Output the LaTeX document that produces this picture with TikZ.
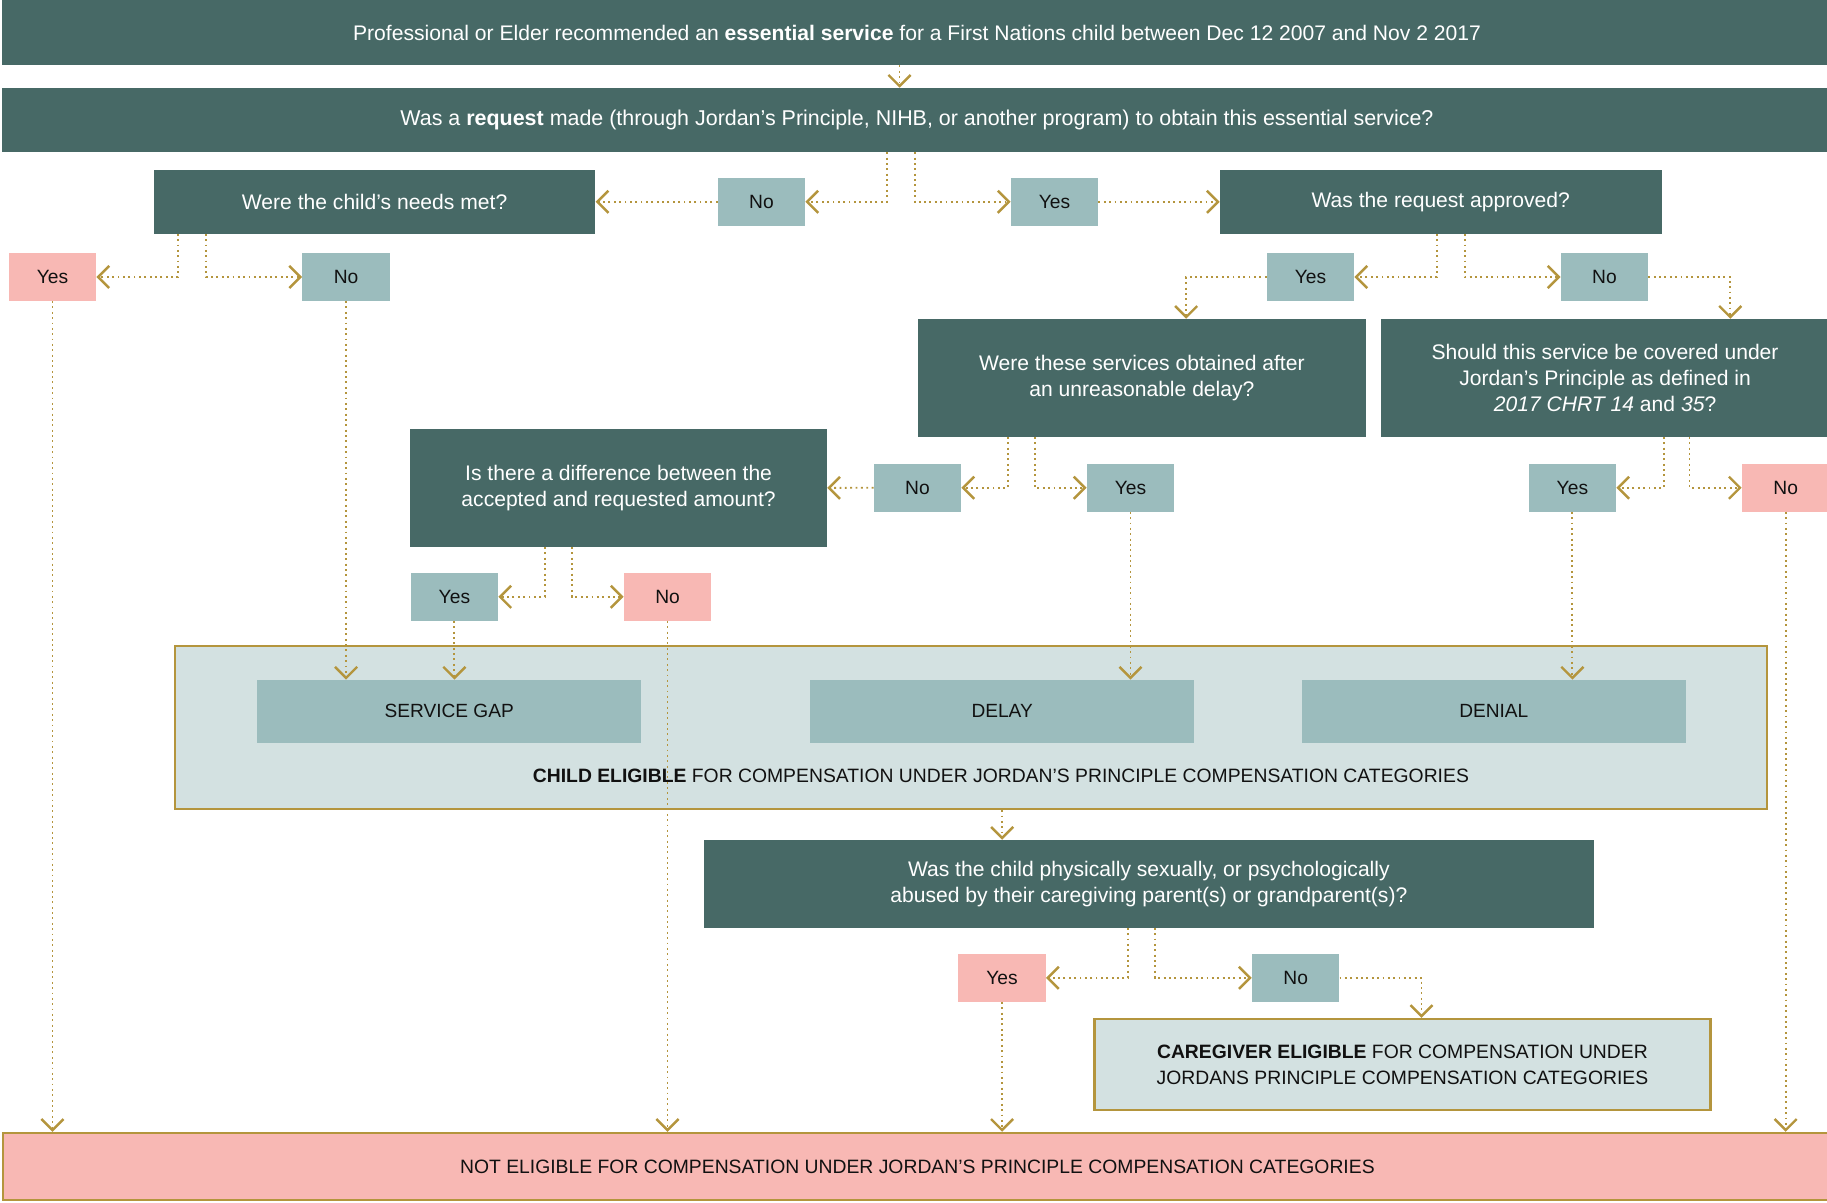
\documentclass[tikz,border=0pt]{standalone}
\usepackage{fontspec}
\setmainfont{Liberation Sans}
\usetikzlibrary{arrows.meta}
\definecolor{darkteal}{HTML}{476966}
\definecolor{paleteal}{HTML}{9BBCBD}
\definecolor{softpink}{HTML}{F8B8B4}
\definecolor{mistteal}{HTML}{D3E1E1}
\definecolor{ochre}{HTML}{B4953D}
\definecolor{inkblack}{HTML}{111111}
\begin{document}
\begin{tikzpicture}[x=1pt,y=-1pt,
  qbox/.style={fill=darkteal, text=white, inner sep=0pt, align=center,
    font=\fontsize{18.1}{22}\selectfont},
  ans/.style={fill=paleteal, text=inkblack, inner sep=0pt,
    minimum width=75pt, minimum height=41pt, font=\fontsize{16.5}{20}\selectfont},
  ansneg/.style={ans, fill=softpink},
  catbox/.style={fill=paleteal, text=inkblack, inner sep=0pt,
    minimum width=330pt, minimum height=54pt, font=\fontsize{16.4}{20}\selectfont},
  framebox/.style={draw=ochre, line width=2pt, inner sep=0pt, align=center,
    text=inkblack, font=\fontsize{16.6}{22}\selectfont},
  flow/.style={draw=ochre, line width=1.6pt, dash pattern=on 1.6pt off 3pt,
    -{Straight Barb[length=9.5pt,width=19pt,line width=2.1pt]}}]

\useasboundingbox (0,0) rectangle (1568,1031.6);

% question boxes
\node[qbox, minimum width=1570pt, minimum height=56pt] (start) at (787,28)
  {Professional or Elder recommended an \textbf{essential service} for a First Nations child between Dec 12 2007 and Nov 2 2017};
\node[qbox, font=\fontsize{18.4}{22}\selectfont, minimum width=1570pt, minimum height=55pt] (request) at (787,103)
  {Was a \textbf{request} made (through Jordan’s Principle, NIHB, or another program) to obtain this essential service?};
\node[qbox, minimum width=379pt, minimum height=54.5pt] (needs) at (321.5,173.2)
  {Were the child’s needs met?};
\node[qbox, minimum width=379pt, minimum height=54.5pt] (approved) at (1236.5,173.2)
  {Was the request approved?};
\node[qbox, minimum width=384.4pt, minimum height=101pt] (delayq) at (980,324.3)
  {Were these services obtained after\\an unreasonable delay?};
\node[qbox, minimum width=385pt, minimum height=101pt] (covered) at (1377.5,324.3)
  {Should this service be covered under\\Jordan’s Principle as defined in\\\textit{2017 CHRT 14} and \textit{35}?};
\node[qbox, minimum width=357.7pt, minimum height=101pt] (diff) at (530.9,418.7)
  {Is there a difference between the\\accepted and requested amount?};

% child eligibility panel
\node[framebox, fill=mistteal, minimum width=1366pt, minimum height=140pt] (child) at (833.2,624.3) {};
\node[catbox] (gap) at (385.5,610.5) {SERVICE GAP};
\node[catbox] (delay) at (860.1,610.5) {DELAY};
\node[catbox] (denial) at (1282,610.5) {DENIAL};
\node[text=inkblack, inner sep=0pt, font=\fontsize{16.6}{20}\selectfont] (childtxt) at (859,666)
  {\textbf{CHILD ELIGIBLE} FOR COMPENSATION UNDER JORDAN’S PRINCIPLE COMPENSATION CATEGORIES};

\node[qbox, minimum width=764pt, minimum height=75.2pt] (abuse) at (986,758.5)
  {Was the child physically sexually, or psychologically\\abused by their caregiving parent(s) or grandparent(s)?};
\node[framebox, fill=mistteal, minimum width=528.8pt, minimum height=78pt] (caregiver) at (1203.6,913.6)
  {\textbf{CAREGIVER ELIGIBLE} FOR COMPENSATION UNDER\\JORDANS PRINCIPLE COMPENSATION CATEGORIES};
\node[framebox, fill=softpink, minimum width=1570pt, minimum height=57.7pt] (notelig) at (787.3,1001.2)
  {NOT ELIGIBLE FOR COMPENSATION UNDER JORDAN’S PRINCIPLE COMPENSATION CATEGORIES};

% answer boxes
\node[ans] (reqno) at (653.5,173.2) {No};
\node[ans] (reqyes) at (905,173.2) {Yes};
\node[ansneg] (needsyes) at (45,237.7) {Yes};
\node[ans] (needsno) at (297,237.7) {No};
\node[ans] (apryes) at (1124.7,237.7) {Yes};
\node[ans] (aprno) at (1377,237.7) {No};
\node[ans] (dlyno) at (787.4,418.6) {No};
\node[ans] (dlyyes) at (970.2,418.6) {Yes};
\node[ans] (covyes) at (1349.5,418.6) {Yes};
\node[ansneg] (covno) at (1532.5,418.6) {No};
\node[ans] (diffyes) at (390,512.2) {Yes};
\node[ansneg] (diffno) at (572.9,512.2) {No};
\node[ansneg] (abuseyes) at (860,839.2) {Yes};
\node[ans] (abuseno) at (1112,839.2) {No};

% connectors
\draw[flow] ([xshift=-15pt]start.south) -- ([xshift=-15pt]request.north);
\draw[flow] ([xshift=-26pt]request.south) |- (reqno.east);
\draw[flow] ([xshift=-2pt]request.south) |- (reqyes.west);
\draw[flow] (reqno.west) -- (needs.east);
\draw[flow] (reqyes.east) -- (approved.west);

\draw[flow] ([xshift=21pt]needs.south west) |- (needsyes.east);
\draw[flow] ([xshift=45pt]needs.south west) |- (needsno.west);
\draw[flow] (needsyes.south) -- (needsyes.south |- notelig.north);
\draw[flow] (needsno.south) -- (needsno.south |- gap.north);

\draw[flow] ([xshift=-3.5pt]approved.south) |- (apryes.east);
\draw[flow] ([xshift=20.5pt]approved.south) |- (aprno.west);
\draw[flow] (apryes.west) -| ([xshift=38pt]delayq.north);
\draw[flow] (aprno.east) -| ([xshift=107.5pt]covered.north);

\draw[flow] ([xshift=-115pt]delayq.south) |- (dlyno.east);
\draw[flow] ([xshift=-92pt]delayq.south) |- (dlyyes.west);
\draw[flow] (dlyno.west) -- (diff.east);
\draw[flow] (dlyyes.south) -- (dlyyes.south |- delay.north);

\draw[flow] ([xshift=50.5pt]covered.south) |- (covyes.east);
\draw[flow] ([xshift=72.5pt]covered.south) |- (covno.west);
\draw[flow] (covyes.south) -- (covyes.south |- denial.north);
\draw[flow] (covno.south) -- (covno.south |- notelig.north);

\draw[flow] ([xshift=-63.3pt]diff.south) |- (diffyes.east);
\draw[flow] ([xshift=-40.2pt]diff.south) |- (diffno.west);
\draw[flow] (diffyes.south) -- (diffyes.south |- gap.north);
\draw[flow] (diffno.south) -- (diffno.south |- notelig.north);

\draw[flow] (child.south -| delay.center) -- (abuse.north -| delay.center);
\draw[flow] ([xshift=-18pt]abuse.south) |- (abuseyes.east);
\draw[flow] ([xshift=5pt]abuse.south) |- (abuseno.west);
\draw[flow] (abuseno.east) -| ([xshift=16.4pt]caregiver.north);
\draw[flow] (abuseyes.south) -- (abuseyes.south |- notelig.north);
\end{tikzpicture}
\end{document}
